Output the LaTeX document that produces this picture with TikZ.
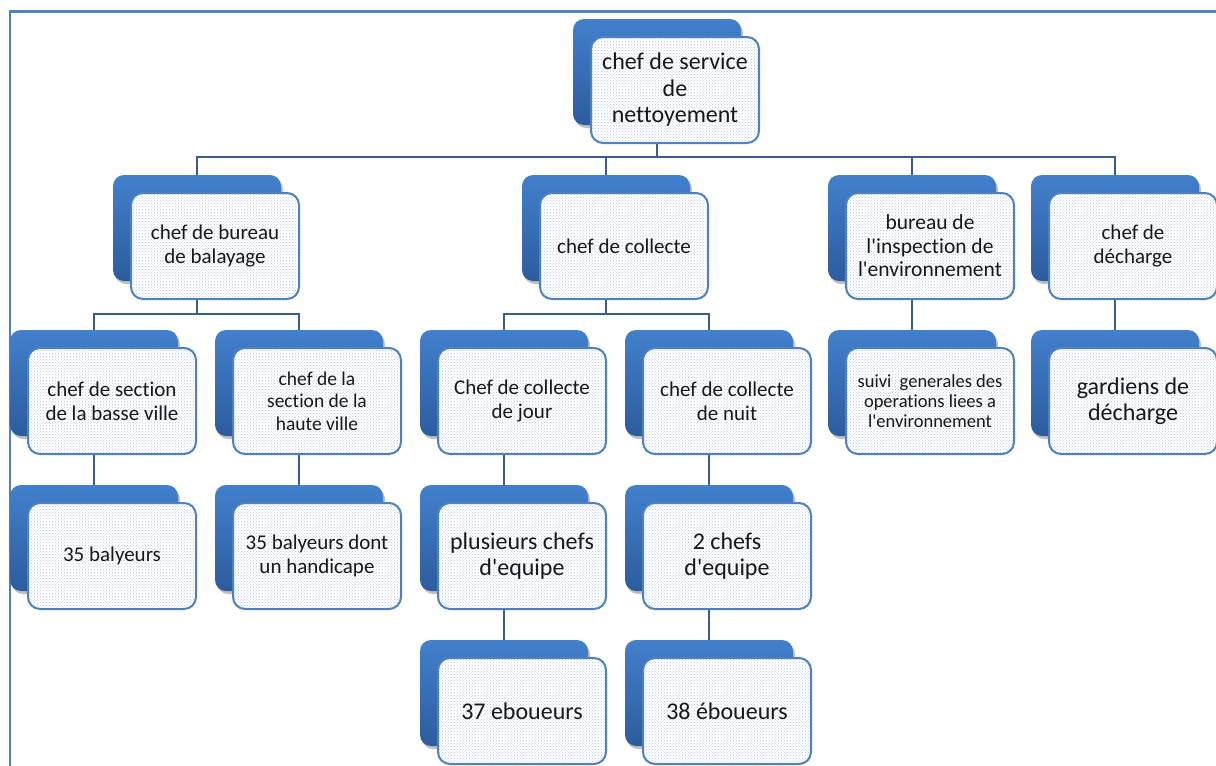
\documentclass[tikz,border=0pt]{standalone}
\usepackage{fontspec}
\setmainfont{Carlito}[Ligatures={TeXOff,CommonOff}]
\usetikzlibrary{patterns,shadows}
\pgfdeclarelayer{background}
\pgfsetlayers{background,main}
\definecolor{frameblue}{RGB}{79,129,189}
\definecolor{backtop}{RGB}{66,128,204}
\definecolor{backbot}{RGB}{44,92,158}
\definecolor{dotblue}{RGB}{185,203,228}
\definecolor{linkblue}{RGB}{58,94,140}
\tikzset{
  backbox/.style={rectangle, rounded corners=11pt, minimum width=168pt, minimum height=106pt,
    inner sep=0pt, top color=backtop, bottom color=backbot, draw=none,
    drop shadow={shadow xshift=2pt, shadow yshift=-3pt, fill=black, opacity=0.25}},
  frontbox/.style={rectangle, rounded corners=12pt, minimum width=168pt, minimum height=106pt,
    inner sep=2pt, draw=frameblue, line width=2pt, align=center, text=black!90,
    preaction={fill=white}, pattern=crosshatch dots, pattern color=dotblue},
  link/.style={draw=linkblue, line width=2pt},
  frameline/.style={draw=frameblue, line width=2.2pt}
}
\newcommand{\orgbox}[6]{%
  \node[backbox] (#1b) at (#2+84,#3+53) {};
  \node[frontbox,font=\fontsize{#4}{#5}\selectfont] (#1) at (#2+102,#3+71) {#6};
}
\begin{document}
\begin{tikzpicture}[x=1pt,y=-1pt]
\useasboundingbox (0,0) rectangle (1216,766);
\coordinate (f0) at (1216,11.5);
\coordinate (f1) at (10,11.5);
\coordinate (f2) at (10,766);
\draw[frameline] (f0) -- (f1) -- (f2);

\orgbox{top}{573}{19}{24}{26.5}{chef de service\\de\\nettoyement}
\orgbox{bal}{113}{175}{21}{24}{chef de bureau\\de balayage}
\orgbox{col}{522}{175}{21}{24}{chef de collecte}
\orgbox{ins}{828}{175}{21.5}{23.5}{bureau de\\l'inspection de\\l'environnement}
\orgbox{dec}{1031}{175}{21}{24}{chef de\\décharge}
\orgbox{bas}{10}{330}{21}{24}{chef de section\\de la basse ville}
\orgbox{hau}{215}{330}{19.5}{22.5}{chef de la\\section de la\\haute ville}
\orgbox{jou}{420}{330}{21}{24}{Chef de collecte\\de jour}
\orgbox{nui}{625}{330}{21}{24}{chef de collecte\\de nuit}
\orgbox{sui}{828}{330}{18.5}{20}{suivi\ \ generales des\\operations liees a\\l'environnement}
\orgbox{gar}{1031}{330}{24}{26}{gardiens de\\décharge}
\orgbox{bay}{10}{485}{21}{24}{35 balyeurs}
\orgbox{bah}{215}{485}{21}{24}{35 balyeurs dont\\un handicape}
\orgbox{plu}{420}{485}{24}{26}{plusieurs chefs\\d'equipe}
\orgbox{deu}{625}{485}{24}{26}{2 chefs\\d'equipe}
\orgbox{ebj}{420}{640}{24}{26}{37 eboueurs}
\orgbox{ebn}{625}{640}{24}{26}{38 éboueurs}

\coordinate (bar1) at (0,157);
\coordinate (bar2) at (0,314);
\begin{pgfonlayer}{background}
\foreach \c in {bal,col,ins,dec}
  \draw[link] (topb.center) -- (topb |- bar1) -| (\c b.center);
\foreach \c in {bas,hau}
  \draw[link] (balb.center) -- (balb |- bar2) -| (\c b.center);
\foreach \c in {jou,nui}
  \draw[link] (colb.center) -- (colb |- bar2) -| (\c b.center);
\draw[link] (insb.center) -- (suib.center);
\draw[link] (decb.center) -- (garb.center);
\draw[link] (basb.center) -- (bayb.center);
\draw[link] (haub.center) -- (bahb.center);
\draw[link] (joub.center) -- (plub.center);
\draw[link] (nuib.center) -- (deub.center);
\draw[link] (plub.center) -- (ebjb.center);
\draw[link] (deub.center) -- (ebnb.center);
\end{pgfonlayer}
\end{tikzpicture}
\end{document}
